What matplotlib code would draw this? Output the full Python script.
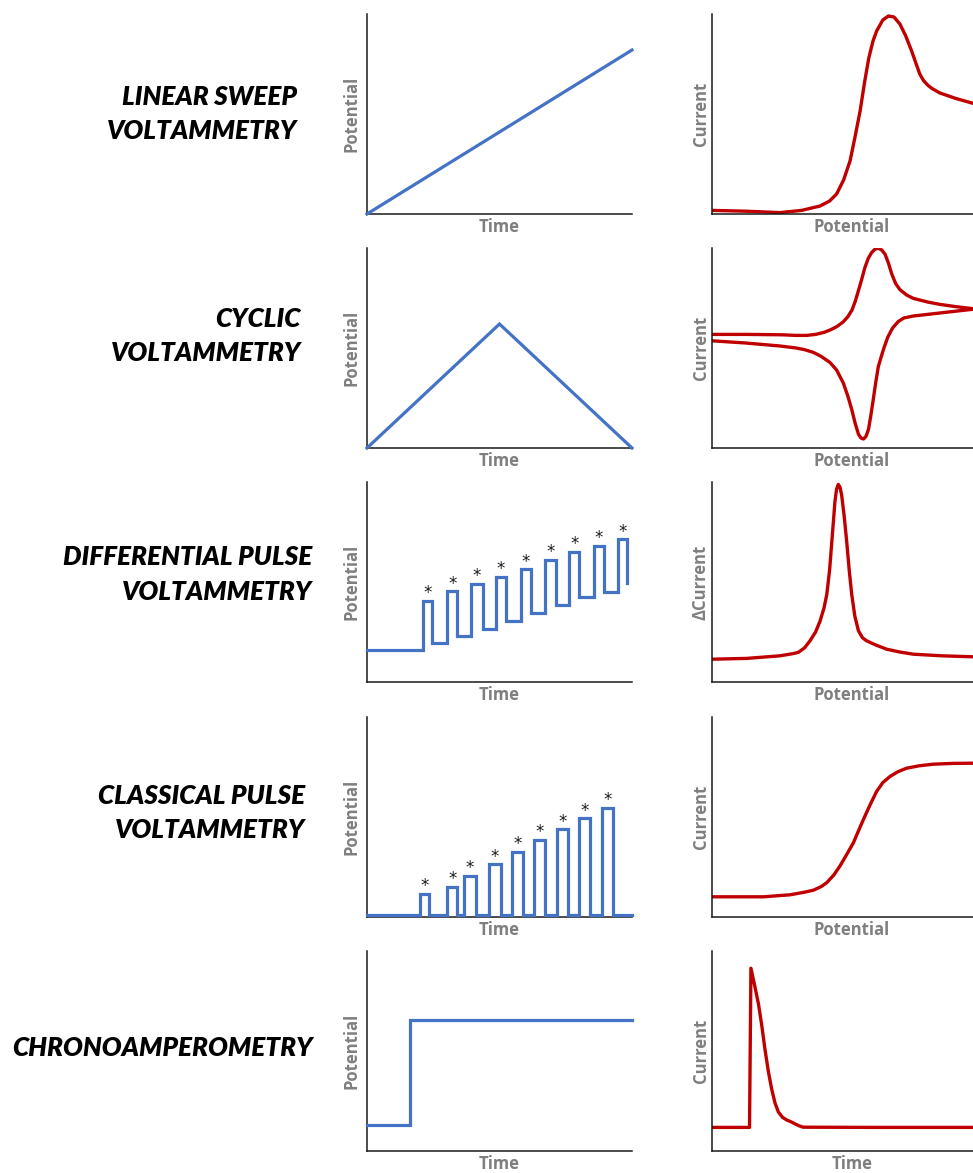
#!/usr/bin/env python3
"""Voltammetry technique overview: excitation waveform vs. response, five rows."""

import matplotlib.pyplot as plt

W, H = 973, 1173
C_BLUE = "#4472C4"
C_RED = "#C00000"
C_LABEL = "#7F7F7F"
FONT = "Open Sans"
TITLE_FONT = "Lato"

# ---- data (normalised axis fractions) ----
titles = [
    ["LINEAR SWEEP", "VOLTAMMETRY"],
    ["CYCLIC", "VOLTAMMETRY"],
    ["DIFFERENTIAL PULSE", "VOLTAMMETRY"],
    ["CLASSICAL PULSE", "VOLTAMMETRY"],
    ["CHRONOAMPEROMETRY"],
]
left_ylabels = ["Potential"] * 5
left_xlabels = ["Time"] * 5
right_ylabels = ["Current", "Current", "ΔCurrent", "Current", "Current"]
right_xlabels = ["Potential", "Potential", "Potential", "Potential", "Time"]

# linear sweep: potential vs time
lsv_t = [0.0, 1.0]
lsv_e = [0.0, 0.82]
# linear sweep: current vs potential
lsv_x = [0.0, 0.12, 0.243, 0.32, 0.386, 0.42, 0.445, 0.47, 0.493, 0.51, 0.529,
         0.545, 0.56, 0.575, 0.588, 0.61, 0.630, 0.65, 0.671, 0.692, 0.713,
         0.728, 0.742, 0.755, 0.77, 0.785, 0.814, 0.87, 0.933, 1.0]
lsv_i = [0.018, 0.014, 0.007, 0.018, 0.04, 0.065, 0.10, 0.17, 0.265, 0.38, 0.515,
         0.66, 0.78, 0.865, 0.915, 0.97, 0.99, 0.985, 0.95, 0.89, 0.815,
         0.755, 0.70, 0.668, 0.645, 0.628, 0.605, 0.578, 0.553, 0.533]

# cyclic: triangular potential
cv_t = [0.0, 0.5, 1.0]
cv_e = [0.0, 0.62, 0.0]
# cyclic voltammogram: forward then reverse branch
cv_fwd_x = [0.0, 0.124, 0.25, 0.30, 0.338, 0.37, 0.40, 0.425, 0.447, 0.468, 0.485,
            0.500, 0.512, 0.523, 0.535, 0.546, 0.558, 0.570, 0.582, 0.594, 0.606,
            0.618, 0.630, 0.642, 0.656, 0.671, 0.695, 0.719, 0.77, 0.814, 0.87,
            0.94]
cv_fwd_i = [0.568, 0.568, 0.566, 0.563, 0.563, 0.568, 0.578, 0.592, 0.608, 0.63,
            0.656, 0.69, 0.735, 0.787, 0.845, 0.902, 0.948, 0.977, 0.994, 0.999,
            0.99, 0.969, 0.925, 0.870, 0.822, 0.792, 0.765, 0.748, 0.73, 0.718,
            0.707, 0.695]
cv_rev_x = [0.94, 0.87, 0.814, 0.719, 0.685, 0.665, 0.645, 0.628, 0.614, 0.603,
            0.594, 0.585, 0.576, 0.567, 0.559, 0.550, 0.541, 0.532, 0.523, 0.511,
            0.499, 0.485, 0.469, 0.445, 0.421, 0.39, 0.362, 0.33, 0.30, 0.243,
            0.12, 0.0]
cv_rev_i = [0.695, 0.684, 0.675, 0.660, 0.65, 0.632, 0.60, 0.555, 0.50, 0.45,
            0.407, 0.33, 0.243, 0.16, 0.094, 0.058, 0.045, 0.05, 0.069, 0.125,
            0.193, 0.26, 0.325, 0.39, 0.428, 0.458, 0.478, 0.492, 0.50, 0.510,
            0.525, 0.536]

# differential pulse: staircase edges (step "post") and levels
dpv_t = [0.0, 0.21, 0.244, 0.303, 0.341, 0.391, 0.437, 0.486, 0.523, 0.580,
         0.618, 0.673, 0.712, 0.763, 0.801, 0.857, 0.894, 0.947, 0.982]
dpv_e = [0.16, 0.407, 0.197, 0.455, 0.232, 0.492, 0.264, 0.527, 0.307, 0.565,
         0.344, 0.610, 0.387, 0.652, 0.424, 0.680, 0.452, 0.714, 0.497]
# differential pulse voltammogram
dpv_x = [0.0, 0.124, 0.243, 0.29, 0.308, 0.33, 0.350, 0.37, 0.386, 0.40, 0.410,
         0.42, 0.428, 0.434, 0.439, 0.445, 0.451, 0.457, 0.463, 0.472, 0.481,
         0.49, 0.499, 0.51, 0.523, 0.537, 0.552, 0.585, 0.624, 0.67, 0.719,
         0.82, 0.933, 1.0]
dpv_i = [0.114, 0.118, 0.131, 0.142, 0.148, 0.17, 0.206, 0.25, 0.305, 0.37, 0.438,
         0.56, 0.703, 0.81, 0.902, 0.965, 0.988, 0.975, 0.935, 0.83, 0.703,
         0.56, 0.438, 0.33, 0.256, 0.222, 0.206, 0.185, 0.164, 0.15, 0.139,
         0.131, 0.126, 0.125]

# classical (normal) pulse: pulse start, end, height
cpv_start = [0.200, 0.303, 0.367, 0.460, 0.546, 0.631, 0.716, 0.801, 0.886]
cpv_end = [0.235, 0.341, 0.410, 0.505, 0.588, 0.672, 0.757, 0.842, 0.927]
cpv_top = [0.117, 0.152, 0.206, 0.264, 0.327, 0.385, 0.440, 0.494, 0.545]
cpv_base = 0.008
# classical pulse voltammogram (sigmoid wave)
npv_x = [0.0, 0.184, 0.279, 0.33, 0.362, 0.39, 0.410, 0.435, 0.457, 0.48, 0.505,
         0.525, 0.546, 0.567, 0.588, 0.61, 0.636, 0.665, 0.695, 0.74, 0.790,
         0.86, 0.933, 1.0]
npv_i = [0.101, 0.101, 0.111, 0.124, 0.134, 0.152, 0.172, 0.21, 0.255, 0.31, 0.371,
         0.437, 0.504, 0.568, 0.628, 0.672, 0.703, 0.727, 0.744, 0.756, 0.764,
         0.768, 0.769, 0.769]

# chronoamperometry: potential step and current transient
ca_t = [0.0, 0.162, 1.0]
ca_e = [0.13, 0.653, 0.653]
ca_x = [0.0, 0.134, 0.139, 0.152, 0.166, 0.178, 0.189, 0.201, 0.213, 0.225, 0.237,
        0.252, 0.267, 0.282, 0.296, 0.311, 0.326, 0.60, 0.933, 1.0]
ca_i = [0.118, 0.118, 0.914, 0.83, 0.735, 0.625, 0.51, 0.40, 0.31, 0.24, 0.195,
        0.168, 0.155, 0.146, 0.136, 0.126, 0.119, 0.118, 0.118, 0.118]

# ---- layout (pixels of the 973x1173 canvas) ----
ROW_TOP = [14, 248, 482, 717, 951]
AX_H = 200
MID_X, MID_W = 367, 265
RIGHT_X, RIGHT_W = 712, 280
TITLE_RIGHT = [297, 301, 312, 305, 313]
TITLE_BASE = [[105, 139], [327, 361.5], [565, 600], [803.5, 838.5], [1056]]


def px_rect(left, top, width, height):
    return [left / W, 1 - (top + height) / H, width / W, height / H]


def style_axes(ax, xlabel, ylabel, ypad):
    ax.set_xlim(0, 1)
    ax.set_ylim(0, 1)
    ax.set_xticks([])
    ax.set_yticks([])
    ax.spines[["top", "right"]].set_visible(False)
    for side in ("left", "bottom"):
        ax.spines[side].set_linewidth(1.1)
        ax.spines[side].set_color("#1a1a1a")
    lab = dict(fontsize=12, fontweight="bold", color=C_LABEL, family=FONT)
    ax.set_xlabel(xlabel, labelpad=2.8, **lab)
    ax.set_ylabel(ylabel, labelpad=ypad, **lab)


def star(ax, x, y):
    ax.annotate("*", (x, y), xytext=(0, 1.8), textcoords="offset points",
                ha="center", va="baseline", fontsize=12, color="#1a1a1a",
                annotation_clip=False)


fig = plt.figure(figsize=(W / 100, H / 100), dpi=100)

blue = dict(color=C_BLUE, linewidth=2.3, clip_on=False, zorder=3,
            solid_joinstyle="miter")
red = dict(color=C_RED, linewidth=2.4, solid_joinstyle="round",
           solid_capstyle="round")

mids, rights = [], []
for r, top in enumerate(ROW_TOP):
    am = fig.add_axes(px_rect(MID_X, top, MID_W, AX_H))
    ar = fig.add_axes(px_rect(RIGHT_X, top, RIGHT_W, AX_H))
    style_axes(am, left_xlabels[r], left_ylabels[r], 4.5)
    style_axes(ar, right_xlabels[r], right_ylabels[r], 1.5)
    mids.append(am)
    rights.append(ar)
    for line, base in zip(titles[r], TITLE_BASE[r]):
        fig.text(TITLE_RIGHT[r] / W, 1 - base / H, line, ha="right", va="baseline",
                 fontsize=18.8, fontweight="heavy", fontstyle="italic",
                 family=TITLE_FONT, color="black")

# row 1: linear sweep
mids[0].plot(lsv_t, lsv_e, **blue)
rights[0].plot(lsv_x, lsv_i, **red)

# row 2: cyclic
mids[1].plot(cv_t, cv_e, **blue)
rights[1].plot(cv_fwd_x + cv_rev_x, cv_fwd_i + cv_rev_i, **red)

# row 3: differential pulse
mids[2].step(dpv_t, dpv_e, where="post", **blue)
for k in range(1, len(dpv_t) - 1, 2):
    star(mids[2], (dpv_t[k] + dpv_t[k + 1]) / 2, dpv_e[k])
rights[2].plot(dpv_x, dpv_i, **red)

# row 4: classical pulse
cp_t, cp_e = [0.0], [cpv_base]
for s, e, h in zip(cpv_start, cpv_end, cpv_top):
    cp_t += [s, s, e, e]
    cp_e += [cpv_base, h, h, cpv_base]
cp_t.append(1.0)
cp_e.append(cpv_base)
mids[3].plot(cp_t, cp_e, **blue)
for s, e, h in zip(cpv_start, cpv_end, cpv_top):
    star(mids[3], (s + e) / 2, h)
rights[3].plot(npv_x, npv_i, **red)

# row 5: chronoamperometry
mids[4].step(ca_t, ca_e, where="post", **blue)
rights[4].plot(ca_x, ca_i, **red)

fig.savefig("out.png", dpi=100)
